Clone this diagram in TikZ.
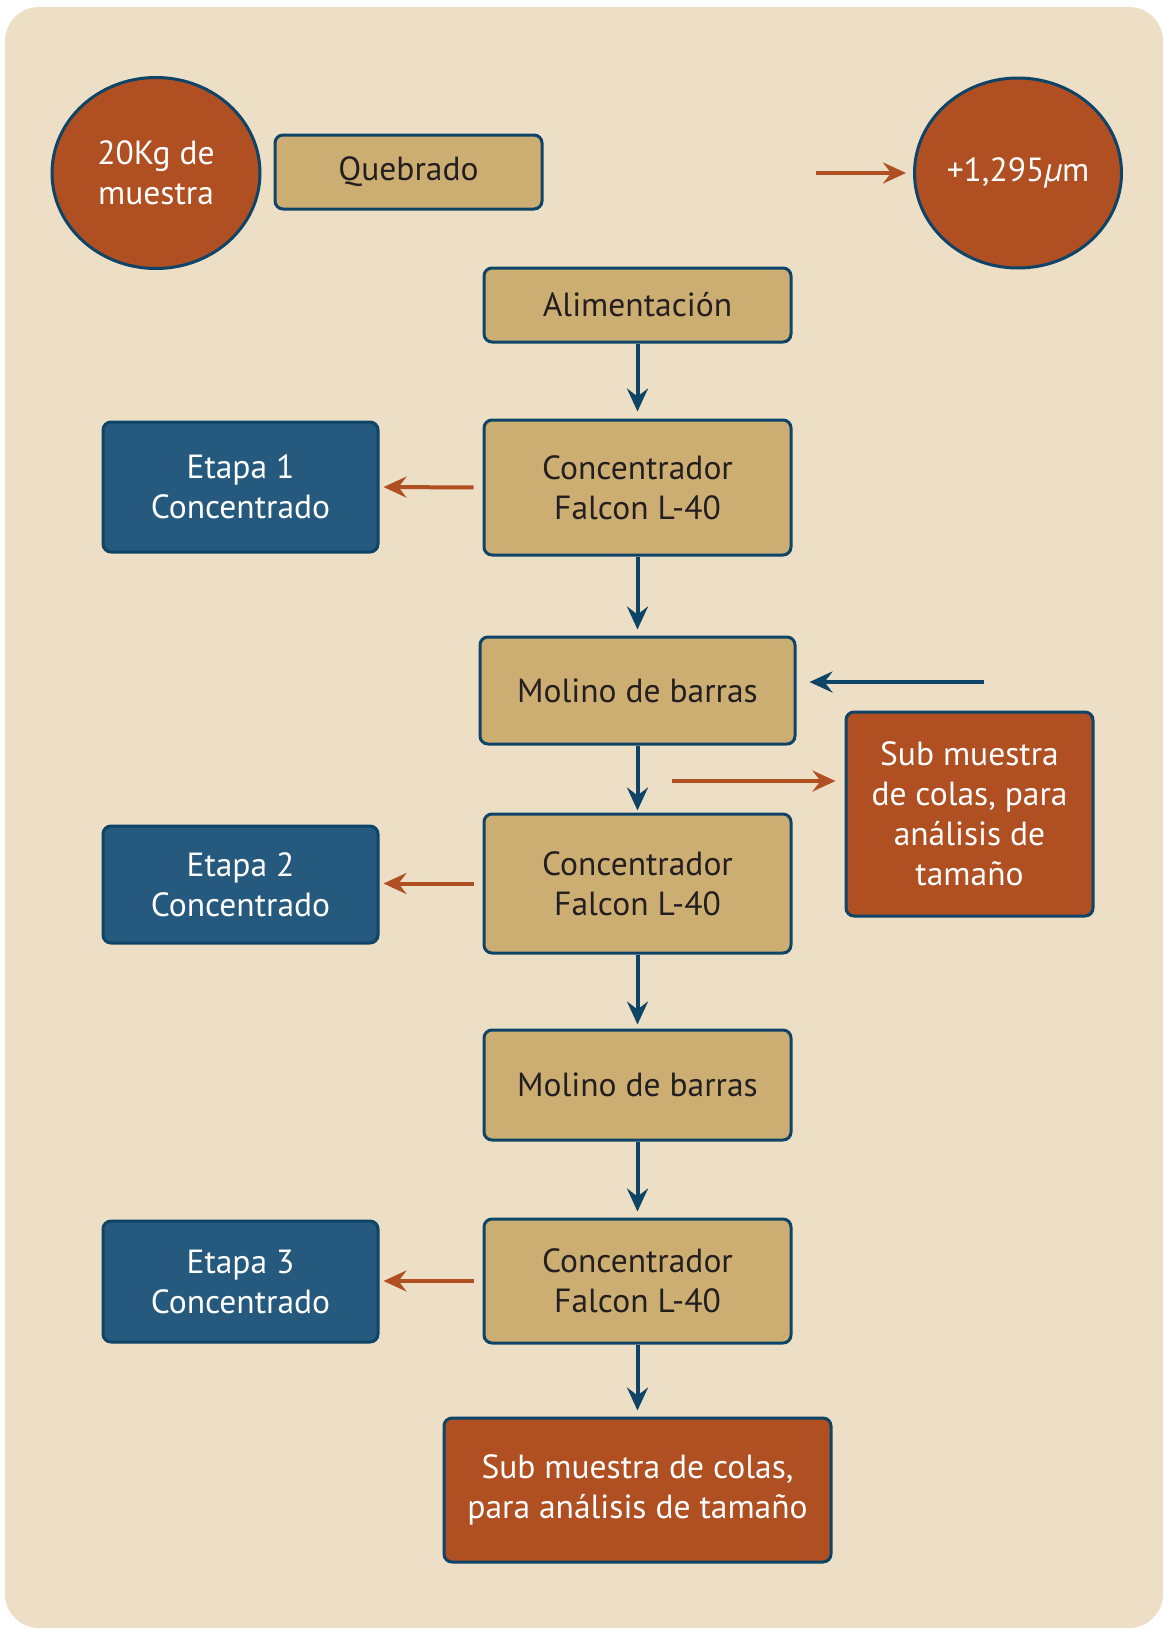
\documentclass[tikz,border=0pt]{standalone}
\usepackage{fontspec}
\setmainfont{PT Sans}
\usetikzlibrary{arrows.meta,shapes.geometric}
\definecolor{bgc}{HTML}{ECDFC5}
\definecolor{tan}{HTML}{CDAE72}
\definecolor{navy}{HTML}{0D4468}
\definecolor{rust}{HTML}{B04F22}
\definecolor{steel}{HTML}{26597E}
\definecolor{ink}{HTML}{231F20}
\tikzset{
  base/.style={draw=navy, line width=3pt, rounded corners=8pt, align=center, inner sep=0pt,
    font=\fontsize{33.5}{40}\selectfont},
  tanbox/.style={base, fill=tan, text=ink},
  bluebox/.style={base, fill=steel, text=white},
  rustbox/.style={base, fill=rust, text=white},
  blob/.style={ellipse, draw=navy, line width=3pt, fill=rust, text=white, align=center, inner sep=0pt,
    font=\fontsize{33.5}{40}\selectfont},
  barr/.style={draw=navy, line width=4pt, -{Stealth[length=23pt,width=21pt,inset=8pt]}},
  oarr/.style={draw=rust, line width=4pt, -{Stealth[length=23pt,width=21pt,inset=8pt]}},
}
\begin{document}
\begin{tikzpicture}[x=1pt,y=-1pt]
\useasboundingbox (0,0) rectangle (1163,1628);
\fill[bgc, rounded corners=34pt] (5,7) rectangle (1163,1628);

\node[blob, minimum width=208pt, minimum height=191pt] (c1) at (156,173) {20Kg de\\muestra};
\node[tanbox, minimum width=267pt, minimum height=74pt] (q) at (408.5,172) {Quebrado};
\node[blob, minimum width=207pt, minimum height=190pt] (c2) at (1018,173) {+1,295\textit{µ}m};
\node[tanbox, minimum width=307pt, minimum height=74pt] (a) at (637.5,305) {Alimentación};
\node[tanbox, minimum width=307pt, minimum height=135pt] (k1) at (637.5,487.5) {Concentrador\\Falcon L-40};
\node[bluebox, minimum width=275pt, minimum height=130pt] (e1) at (240.5,487) {Etapa 1\\Concentrado};
\node[tanbox, minimum width=315pt, minimum height=107pt] (m1) at (637.5,690.5) {Molino de barras};
\node[rustbox, minimum width=247pt, minimum height=204pt] (s1) at (969.5,814) {Sub muestra\\de colas, para\\análisis de\\tamaño};
\node[tanbox, minimum width=307pt, minimum height=139pt] (k2) at (637.5,883.5) {Concentrador\\Falcon L-40};
\node[bluebox, minimum width=275pt, minimum height=117pt] (e2) at (240.5,884.5) {Etapa 2\\Concentrado};
\node[tanbox, minimum width=307pt, minimum height=110pt] (m2) at (637.5,1085) {Molino de barras};
\node[tanbox, minimum width=307pt, minimum height=124pt] (k3) at (637.5,1281) {Concentrador\\Falcon L-40};
\node[bluebox, minimum width=275pt, minimum height=121pt] (e3) at (240.5,1281.5) {Etapa 3\\Concentrado};
\node[rustbox, minimum width=387pt, minimum height=144pt] (s2) at (637.5,1490) {Sub muestra de colas,\\para análisis de tamaño};

\coordinate (o1) at (816,173);
\coordinate (b1) at (984,682);
\coordinate (o2) at (672,781);

\draw[oarr, shorten >=7pt] (o1) -- (c2.west);
\draw[barr, shorten >=7pt] (a) -- (k1);
\draw[barr, shorten >=6pt] (k1) -- (m1);
\draw[barr, shorten >=2pt] (m1) -- (k2);
\draw[barr, shorten >=4pt] (k2) -- (m2);
\draw[barr, shorten >=6pt] (m2) -- (k3);
\draw[barr, shorten >=6pt] (k3) -- (s2);
\draw[oarr, shorten <=9pt, shorten >=4pt] (k1.west) -- (e1.east);
\draw[oarr, shorten <=9pt, shorten >=4pt] (k2.west) -- (e2.east |- k2.west);
\draw[oarr, shorten <=9pt, shorten >=4pt] (k3.west) -- (e3.east |- k3.west);
\draw[barr, shorten >=13pt] (b1) -- (m1.east |- b1);
\draw[oarr, shorten >=9pt] (o2) -- (s1.west |- o2);
\end{tikzpicture}
\end{document}
